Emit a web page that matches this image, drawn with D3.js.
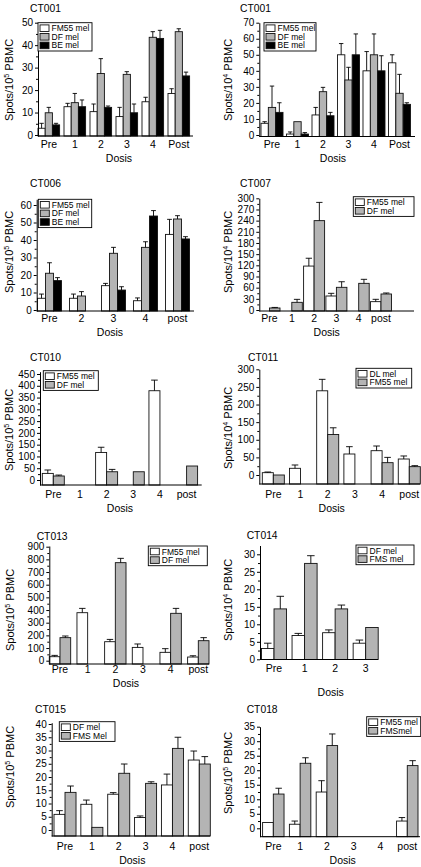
<!DOCTYPE html>
<html><head><meta charset="utf-8">
<script src="https://cdn.jsdelivr.net/npm/d3@7"></script>
<style>
body{margin:0;background:#fff}
svg{display:block}
text{font-family:"Liberation Sans",Arial,Helvetica,sans-serif;fill:#000}
</style>
</head><body>
<svg id="c" width="421" height="867"></svg>
<script>
// ---------- DATA ----------
const cats6Post = ["Pre","1","2","3","4","Post"];
const cats6post = ["Pre","1","2","3","4","post"];
const catsCT006 = ["Pre","2","3","4","post"];
const catsCT014 = ["Pre","1","2","3"];

// CT001 (per 10^5)
const ct001a_fm55 = [3.0, 12.6, 10.4, 8.2, 14.8, 18.5];
const ct001a_fm55_err = [2.2, 1.5, 3.4, 4.1, 2.0, 2.1];
const ct001a_df = [9.9, 14.4, 27.4, 27.0, 43.5, 46.0];
const ct001a_df_err = [2.4, 4.1, 6.6, 1.2, 2.5, 1.3];
const ct001a_be = [4.5, 12.6, 12.3, 9.9, 43.0, 26.3];
const ct001a_be_err = [0.7, 3.0, 0.6, 3.9, 3.6, 1.7];

// CT001 (per 10^4)
const ct001b_fm55 = [7.3, 0.6, 12.5, 50, 40, 45];
const ct001b_fm55_err = [1.0, 1.3, 4.7, 7, 12, 5];
const ct001b_df = [17.2, 8.3, 27, 34.3, 50, 26];
const ct001b_df_err = [13.3, null, 2.7, 7.9, 13, 11.8];
const ct001b_be = [14.1, 0.6, 12, 50, 40, 19.1];
const ct001b_be_err = [6, 0.9, 2.1, 13, 9.4, 1.0];

// CT006
const ct006_fm55 = [6.7, 6.7, 13.9, 5.3, 43.2];
const ct006_fm55_err = [2.4, 2.4, 1.3, 1.6, 8.6];
const ct006_df = [21, 8, 32.4, 35.8, 52];
const ct006_df_err = [6, 2.5, 3.4, 3.2, 1.9];
const ct006_be = [16.8, null, 11.4, 53.7, 40.6];
const ct006_be_err = [1.7, null, 1.9, 3.1, 1.3];

// CT007
const ct007_fm55 = [null, null, 118, 37.6, null, 22.4];
const ct007_fm55_err = [null, null, 21, 7.2, null, 6.3];
const ct007_df = [5.4, 20.6, 240, 60.9, 71.6, 43];
const ct007_df_err = [1.5, 8, 49, 15, 10.8, 2.7];

// CT010
const ct010_fm55 = [28, null, 117, null, 379, null];
const ct010_fm55_err = [14.5, null, 22, null, 45, null];
const ct010_df = [17, null, 35, 35, null, 59.4];
const ct010_df_err = [4, null, 10, null, null, null];

// CT011
const ct011_dl = [6.6, 19, 239, 59.6, 69, 45.4];
const ct011_dl_err = [1.9, 9.4, 32.5, 20.8, 13.3, 8.6];
const ct011_fm55 = [0, null, 115, null, 35, 23.7];
const ct011_fm55_err = [null, null, 19, null, 15, 2.8];

// CT013
const ct013_fm55 = [31.6, 379, 150, 105, 66, 29];
const ct013_fm55_err = [10.4, 34, 18, 27, 29, 10];
const ct013_df = [182, null, 774, null, 374, 158];
const ct013_df_err = [13, null, 34, null, 39, 24];

// CT014
const ct014_df = [3.1, 6.8, 7.6, 4.6];
const ct014_df_err = [1.5, 0.6, 0.8, 0.9];
const ct014_fms = [14.4, 27.4, 14.4, 9.1];
const ct014_fms_err = [3.6, 2.2, 1.1, null];

// CT015
const ct015_df = [5.9, 9.7, 13.5, 4.7, 17, 26.4];
const ct015_df_err = [1.4, 1.6, 0.6, 0.6, 4.1, 3.4];
const ct015_fms = [14.2, 1.0, 21.4, 17.6, 30.8, 24.9];
const ct015_fms_err = [2.4, null, 3.5, 0.6, 4.2, 2.8];

// CT018
const ct018_fm55 = [2.0, 1.4, 12.5, null, null, 2.5];
const ct018_fm55_err = [null, 1.1, 3.9, null, null, 1.2];
const ct018_fms = [11.8, 22.4, 28.5, null, null, 21.6];
const ct018_fms_err = [2.0, 1.9, 4.0, null, null, 1.7];

// ---------- PANELS (data + layout) ----------
const S = (name, values, errors) => ({name, values, errors});
const panels = [
 {title:"CT001", exp:"5", cats:cats6Post,
  series:[S("FM55 mel",ct001a_fm55,ct001a_fm55_err),S("DF mel",ct001a_df,ct001a_df_err),S("BE mel",ct001a_be,ct001a_be_err)],
  L:{axisX:38,y0:135,tickMax:50,tickPx:22.7,step:10,axisBottom:136,axisTop:22.7,bx0:38,bx1:189.6,pi:0.169,xEnd:193,
     labBase:148,dosisX:119,dosisBase:161.5,titleX:30,titleBase:11.5,ylabX:9.5,ylabY:80,leg:{x:38,y:22.7,w:54}}},
 {title:"CT001", exp:"4", cats:cats6Post,
  series:[S("FM55 mel",ct001b_fm55,ct001b_fm55_err),S("DF mel",ct001b_df,ct001b_df_err),S("BE mel",ct001b_be,ct001b_be_err)],
  L:{axisX:259.3,y0:135,tickMax:70,tickPx:22.7,step:10,axisBottom:136.5,axisTop:22.7,bx0:261,bx1:410.5,pi:0.137,xEnd:415,
     labBase:148,dosisX:333,dosisBase:161.5,titleX:240,titleBase:11.5,ylabX:228.3,ylabY:80,leg:{x:264,y:22.7,w:52}}},
 {title:"CT006", exp:"5", cats:catsCT006,
  series:[S("FM55 mel",ct006_fm55,ct006_fm55_err),S("DF mel",ct006_df,ct006_df_err),S("BE mel",ct006_be,ct006_be_err)],
  L:{axisX:36.7,y0:310,tickMax:60,tickPx:205,step:10,axisBottom:311,axisTop:199.3,bx0:37.5,bx1:189.5,pi:0.25,xEnd:194,
     labBase:322,dosisX:110,dosisBase:336,titleX:30,titleBase:186.5,ylabX:9.5,ylabY:252,leg:{x:38.3,y:199.3,w:53.4}}},
 {title:"CT007", exp:"4", cats:cats6post,
  series:[S("FM55 mel",ct007_fm55,ct007_fm55_err),S("DF mel",ct007_df,ct007_df_err)],
  L:{axisX:259.3,y0:310,tickMax:300,tickPx:198.3,step:30,axisBottom:311,axisTop:198.3,bx0:259,bx1:391.5,pi:0.058,xEnd:414,
     labBase:322,dosisX:326.7,dosisBase:336,titleX:240,titleBase:186.5,ylabX:228.3,ylabY:252,leg:{x:353.3,y:196.7,w:60.7}}},
 {title:"CT010", exp:"5", cats:cats6post,
  series:[S("FM55 mel",ct010_fm55,ct010_fm55_err),S("DF mel",ct010_df,ct010_df_err)],
  L:{axisX:40,y0:480,tickMax:450,tickPx:374,step:50,axisBottom:485,axisTop:371.7,bx0:42.3,bx1:197.6,pi:0.175,xEnd:201.7,
     labBase:498,dosisX:120,dosisBase:512,titleX:30,titleBase:361,ylabX:9.5,ylabY:430,leg:{x:43.3,y:370.7,w:55}}},
 {title:"CT011", exp:"4", cats:cats6post,
  series:[S("DL mel",ct011_dl,ct011_dl_err),S("FM55 mel",ct011_fm55,ct011_fm55_err)],
  L:{axisX:259.3,y0:475,tickMax:300,tickPx:369.3,step:50,axisBottom:484,axisTop:369.3,bx0:262.3,bx1:420.3,pi:0.19,xEnd:420,
     labBase:498,dosisX:331.7,dosisBase:512,titleX:248,titleBase:361,ylabX:228.3,ylabY:428,leg:{x:356,y:368.3,w:55.7}}},
 {title:"CT013", exp:"5", cats:cats6post,
  series:[S("FM55 mel",ct013_fm55,ct013_fm55_err),S("DF mel",ct013_df,ct013_df_err)],
  L:{axisX:49.3,y0:660.7,tickMax:900,tickPx:546.7,step:100,axisBottom:664,axisTop:546,bx0:49.3,bx1:209,pi:0.227,xEnd:209,
     labBase:673,dosisX:126,dosisBase:687,titleX:36.7,titleBase:539.6,ylabX:10,ylabY:610,leg:{x:148.3,y:546,w:59}}},
 {title:"CT014", exp:"4", cats:catsCT014,
  series:[S("DF mel",ct014_df,ct014_df_err),S("FMS mel",ct014_fms,ct014_fms_err)],
  L:{axisX:260,y0:659.3,tickMax:30,tickPx:554.3,step:5,axisBottom:659.5,axisTop:545.5,bx0:261.5,bx1:378.2,pi:0.18,xEnd:378,
     labBase:672,dosisX:330.7,dosisBase:695.5,titleX:246.7,titleBase:538.6,ylabX:228.3,ylabY:600,leg:{x:356,y:545,w:58}}},
 {title:"CT015", exp:"5", cats:cats6post,
  series:[S("DF mel",ct015_df,ct015_df_err),S("FMS Mel",ct015_fms,ct015_fms_err)],
  L:{axisX:51.7,y0:830,tickMax:40,tickPx:724,step:5,axisBottom:836,axisTop:722.7,bx0:54,bx1:210.3,pi:0.18,xEnd:210,
     labBase:850,dosisX:132.3,dosisBase:864,titleX:35,titleBase:713,ylabX:10,ylabY:767,leg:{x:59.3,y:721.7,w:55.7}}},
 {title:"CT018", exp:"5", cats:cats6post,
  series:[S("FM55 mel",ct018_fm55,ct018_fm55_err),S("FMSmel",ct018_fms,ct018_fms_err)],
  L:{axisX:260,y0:828.3,tickMax:35,tickPx:726.7,step:5,axisBottom:836.7,axisTop:726.7,bx0:262.6,bx1:418,pi:0.2,xEnd:420,
     labBase:850,dosisX:342.7,dosisBase:864,titleX:246.7,titleBase:713,ylabX:228.3,ylabY:773,leg:{x:366.7,y:716.7,w:54}}}
];

// ---------- STYLE ----------
const fills = ["#ffffff","#b4b4b4","#000000"];
const STROKE = "#111";
const FS_TICK = 10, FS_CAT = 10.5, FS_TITLE = 10.3, FS_YLAB = 11, FS_DOSIS = 10.5, FS_LEG = 8.5;

const svg = d3.select("#c");
svg.append("rect").attr("width",421).attr("height",867).attr("fill","#fff");

function drawPanel(P){
  const L = P.L;
  const g = svg.append("g");
  const k = (L.y0 - L.tickPx)/L.tickMax;
  const y = d3.scaleLinear()
    .domain([-(L.axisBottom - L.y0)/k, (L.y0 - L.axisTop)/k])
    .range([L.axisBottom, L.axisTop]);
  const x = d3.scaleBand().domain(P.cats).range([L.bx0, L.bx1]).paddingInner(L.pi).paddingOuter(0);
  const xs = d3.scaleBand().domain(P.series.map((s,i)=>i)).range([0, x.bandwidth()]);
  const base = y.range()[0];

  P.series.forEach((s,si)=>{
    const rows = P.cats.map((c,i)=>({c, v:s.values[i], e:s.errors[i]})).filter(d=>d.v!=null);
    const bw = xs.bandwidth();
    g.append("g").selectAll("rect").data(rows).join("rect")
      .attr("x", d=>x(d.c)+xs(si)).attr("width", bw)
      .attr("y", d=>y(d.v)).attr("height", d=>base - y(d.v))
      .attr("fill", fills[si]).attr("stroke", STROKE).attr("stroke-width", 0.9);
    const er = rows.filter(d=>d.e!=null && d.e>0);
    const eg = g.append("g").attr("stroke","#000").attr("stroke-width",0.9);
    eg.selectAll("line.v").data(er).join("line").attr("class","v")
      .attr("x1", d=>x(d.c)+xs(si)+bw/2).attr("x2", d=>x(d.c)+xs(si)+bw/2)
      .attr("y1", d=>y(d.v)).attr("y2", d=>y(d.v+d.e));
    eg.selectAll("line.c").data(er).join("line").attr("class","c")
      .attr("x1", d=>x(d.c)+xs(si)+bw*0.2).attr("x2", d=>x(d.c)+xs(si)+bw*0.8)
      .attr("y1", d=>y(d.v+d.e)).attr("y2", d=>y(d.v+d.e));
  });

  // Y axis
  const yAxis = d3.axisLeft(y).tickValues(d3.range(0, L.tickMax+1e-9, L.step))
    .tickSize(3).tickPadding(2).tickSizeOuter(0);
  const ya = g.append("g").attr("transform",`translate(${L.axisX},0)`).call(yAxis);
  ya.attr("font-family",null).attr("font-size",null);
  ya.selectAll("text").style("font-size",FS_TICK+"px");
  ya.selectAll("line,path").attr("stroke","#000");
  const minor = d3.axisLeft(y).tickValues(d3.range(L.step/2, L.tickMax, L.step)).tickSize(2).tickFormat("");
  const ym = g.append("g").attr("transform",`translate(${L.axisX},0)`).call(minor);
  ym.select(".domain").remove();
  ym.selectAll("line").attr("stroke","#000");

  // X axis
  g.append("line").attr("x1",L.axisX).attr("x2",L.xEnd).attr("y1",L.axisBottom).attr("y2",L.axisBottom)
    .attr("stroke","#000").attr("stroke-width",1);
  const xAxis = d3.axisBottom(x).tickSize(0).tickPadding(L.labBase - L.axisBottom - 0.71*FS_CAT);
  const xa = g.append("g").attr("transform",`translate(0,${L.axisBottom})`).call(xAxis);
  xa.select(".domain").remove();
  xa.attr("font-family",null).attr("font-size",null);
  xa.selectAll("text").style("font-size",FS_CAT+"px");

  // Titles
  g.append("text").attr("x",L.titleX).attr("y",L.titleBase).style("font-size",FS_TITLE+"px").text(P.title);
  g.append("text").attr("x",L.dosisX).attr("y",L.dosisBase).attr("text-anchor","middle")
    .style("font-size",FS_DOSIS+"px").text("Dosis");
  const yl = g.append("text").attr("text-anchor","middle")
    .attr("transform",`translate(${L.ylabX + 0.36*FS_YLAB},${L.ylabY}) rotate(-90)`)
    .style("font-size",FS_YLAB+"px");
  yl.append("tspan").text("Spots/10");
  yl.append("tspan").attr("dy",-4).style("font-size","7px").text(P.exp);
  yl.append("tspan").attr("dy",4).text(" PBMC");

  // Legend
  const lg = L.leg, n = P.series.length, rowH = 8.6;
  const h = n*rowH + 2.5;
  const leg = g.append("g").attr("transform",`translate(${lg.x},${lg.y})`);
  leg.append("rect").attr("width",lg.w).attr("height",h).attr("fill","#fff").attr("stroke","#000").attr("stroke-width",0.9);
  const items = leg.selectAll("g.it").data(P.series).join("g").attr("class","it")
    .attr("transform",(d,i)=>`translate(0,${1.6 + i*rowH})`);
  items.append("rect").attr("x",2).attr("y",0.6).attr("width",9).attr("height",6.6)
    .attr("fill",(d,i)=>fills[i]).attr("stroke",STROKE).attr("stroke-width",0.9);
  items.append("text").attr("x",13.5).attr("y",6.9).style("font-size",FS_LEG+"px").text(d=>d.name);
}

panels.forEach(drawPanel);
</script>
</body></html>
